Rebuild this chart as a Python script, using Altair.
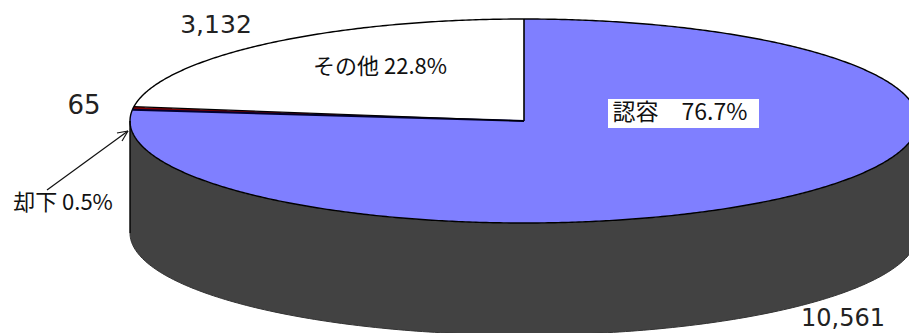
import numpy as np
import pandas as pd
import altair as alt

# Case outcomes, clockwise from twelve o'clock
categories = ["認容", "却下", "その他"]
counts = [10561, 65, 3132]
share_labels = ["認容\u300076.7%", "却下 0.5%", "その他 22.8%"]
count_labels = ["10,561", "65", "3,132"]

W, H = 909, 333
CX, CY, RX, RY, DEPTH = 524, 121, 394, 102, 112

total = sum(counts)
theta_blue = 2 * np.pi * counts[0] / total
theta_red = 2 * np.pi * (counts[0] + counts[1]) / total
x_blue, y_blue = np.sin(theta_blue), np.cos(theta_blue)
x_red, y_red = np.sin(theta_red), np.cos(theta_red)
drop = DEPTH / RY

x_scale = alt.Scale(domain=[-CX / RX, (W - CX) / RX], range=[0, W], nice=False, zero=False)
y_scale = alt.Scale(domain=[(CY - H) / RY, CY / RY], range=[H, 0], nice=False, zero=False)


def rim(x):
    return np.sqrt(np.clip(1 - x * x, 0, 1))


def grid(start, stop):
    """x positions spaced evenly along the ellipse between two x values."""
    a, b = np.arccos(start), np.arccos(stop)
    return np.cos(np.linspace(a, b, 200))


def band(name, xs, upper, lower):
    return pd.DataFrame({"part": name, "x": xs, "y": upper, "y2": lower})


def area(frame, color):
    return alt.Chart(frame).mark_area(color=color, clip=True, interpolate="linear").encode(
        x=alt.X("x:Q", scale=x_scale, axis=None),
        y=alt.Y("y:Q", scale=y_scale, axis=None),
        y2="y2:Q",
    )


def path(xs, ys, width=1.4, color="#000000"):
    frame = pd.DataFrame({"x": xs, "y": ys, "i": np.arange(len(xs))})
    return alt.Chart(frame).mark_line(color=color, strokeWidth=width, clip=True).encode(
        x=alt.X("x:Q", scale=x_scale, axis=None),
        y=alt.Y("y:Q", scale=y_scale, axis=None),
        order="i:Q",
    )


# Cylinder wall below the front half of the ellipse
xs = grid(-1, 1)
side = area(band("wall", xs, -rim(xs), -rim(xs) - drop), "#424242")

# Blue slice, split where its upper edge changes from rim to radius
xa, xb, xc = grid(-1, x_blue), grid(x_blue, 0), grid(0, 1)
blue = area(
    pd.concat([
        band("a", xa, rim(xa), -rim(xa)),
        band("b", xb, xb * y_blue / x_blue, -rim(xb)),
        band("c", xc, rim(xc), -rim(xc)),
    ]),
    "#7F7FFF",
)

# Thin red slice between the two radii
xa, xb = grid(x_red, x_blue), grid(x_blue, 0)
red = area(
    pd.concat([
        band("a", xa, rim(xa), xa * y_blue / x_blue),
        band("b", xb, xb * y_red / x_red, xb * y_blue / x_blue),
    ]),
    "#800000",
)

# White slice from the red radius round to twelve o'clock
xa = grid(x_red, 0)
white = area(band("a", xa, rim(xa), xa * y_red / x_red), "#FFFFFF")

# Outlines
t = np.linspace(0, 2 * np.pi, 721)
outlines = [
    path(np.sin(t), np.cos(t), 1.4),
    path([0, 0], [1, 0], 1.6),
    path([x_blue, 0], [y_blue, 0], 2.0, "#000030"),
    path([x_red, 0], [y_red, 0], 1.2),
    path([-1, -1], [0, -drop], 1.4),
]
front = grid(-1, 1)
outlines.append(path(front, -rim(front) - drop, 1.0, "#333333"))


def label(text, px, py, size, font="Noto Sans CJK JP", color="#111111", align="center"):
    frame = pd.DataFrame({"t": [text]})
    return alt.Chart(frame).mark_text(
        font=font, fontSize=size, color=color, align=align, baseline="middle"
    ).encode(x=alt.value(px), y=alt.value(py), text="t:N")


def stroke(x1, y1, x2, y2, width=1.2):
    return alt.Chart(pd.DataFrame({"n": [0]})).mark_rule(color="#111111", strokeWidth=width).encode(
        x=alt.value(x1), x2=alt.value(x2), y=alt.value(y1), y2=alt.value(y2)
    )


box = alt.Chart(pd.DataFrame({"n": [0]})).mark_rect(color="#FFFFFF").encode(
    x=alt.value(608), x2=alt.value(759), y=alt.value(99), y2=alt.value(128)
)

pointer = [
    stroke(47, 190, 128, 131),
    stroke(128, 131, 117, 133),
    stroke(128, 131, 122, 141),
]

texts = [
    box,
    label(share_labels[0], 680, 113, 23),
    label(share_labels[2], 380, 67, 22),
    label(share_labels[1], 63, 203, 22),
    label(count_labels[0], 843, 319, 24, "DejaVu Sans", "#222222"),
    label(count_labels[1], 84, 106, 26, "DejaVu Sans", "#222222"),
    label(count_labels[2], 216, 25, 25, "DejaVu Sans", "#222222"),
]

chart = alt.layer(side, blue, red, white, *outlines, *pointer, *texts).properties(
    width=W,
    height=H,
    padding=0,
    autosize=alt.AutoSizeParams(type="none"),
    background="#FFFFFF",
).configure_view(stroke=None)

chart.save("out.html", embed_options={"renderer": "svg", "actions": False})
